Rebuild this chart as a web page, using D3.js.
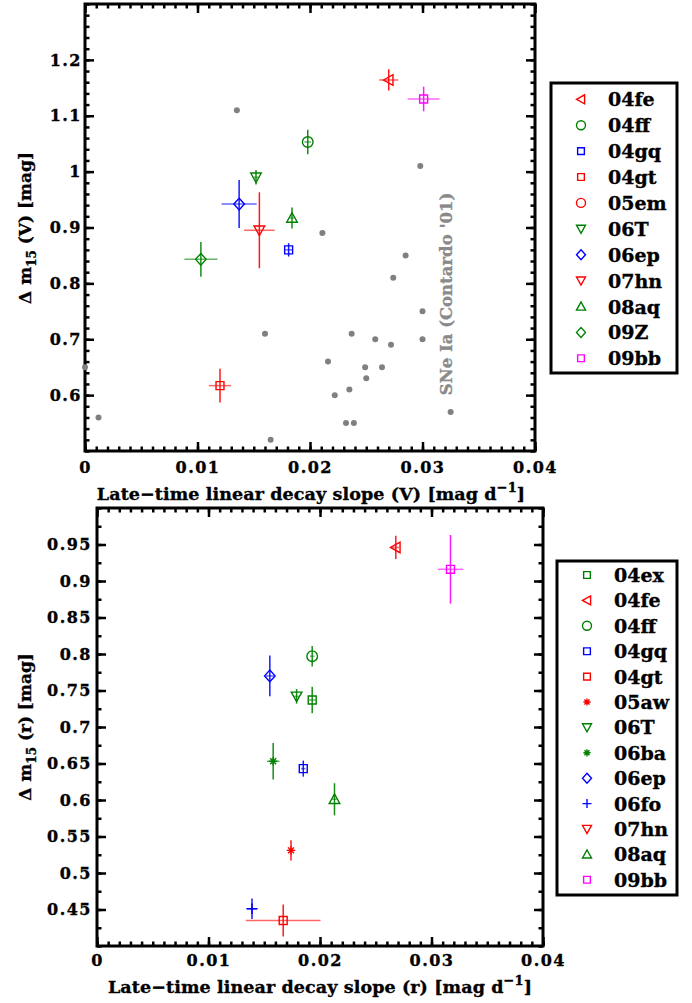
<!DOCTYPE html>
<html>
<head>
<meta charset="utf-8">
<script src="https://cdn.jsdelivr.net/npm/d3@7"></script>
<style>
body { margin: 0; background: #fff; }
svg text { font-family: "DejaVu Serif", serif; font-weight: bold; }
svg text.ink { stroke: #000; stroke-width: 0.35px; }
</style>
</head>
<body>
<div id="chart"></div>
<script>
// ---- top panel: V band
const vNames    = ["04fe", "04ff", "04gq", "04gt", "06T", "06ep", "07hn", "08aq", "09Z", "09bb"];
const vSlope    = [0.0270, 0.0198, 0.0181, 0.0120, 0.0152, 0.0137, 0.0155, 0.0184, 0.0103, 0.0301];
const vSlopeErr = [0.00085, 0.0003, 0.0003, 0.0010, 0.0002, 0.00156, 0.00136, 0.0002, 0.00147, 0.00142];
const vDm15     = [1.164, 1.053, 0.860, 0.617, 0.990, 0.942, 0.895, 0.917, 0.843, 1.130];
const vDm15Err  = [0.019, 0.022, 0.012, 0.030, 0.013, 0.043, 0.068, 0.019, 0.031, 0.022];
const vLegend   = ["04fe", "04ff", "04gq", "04gt", "05em", "06T", "06ep", "07hn", "08aq", "09Z", "09bb"];

// comparison sample, Contardo '01
const contSlope = [0.0000, 0.0012, 0.0135, 0.0160, 0.0165, 0.0211, 0.0216, 0.0222, 0.0232, 0.0239, 0.0235,
                   0.0237, 0.0249, 0.0250, 0.0258, 0.0264, 0.0272, 0.0274, 0.0285, 0.0298, 0.0300, 0.0300, 0.0325];
const contDm15  = [0.65, 0.56, 1.11, 0.71, 0.52, 0.89, 0.66, 0.60, 0.55, 0.55, 0.61,
                   0.71, 0.65, 0.63, 0.70, 0.65, 0.69, 0.81, 0.85, 1.01, 0.75, 0.70, 0.57];

// ---- bottom panel: r band
const rNames    = ["04ex", "04fe", "04ff", "04gq", "04gt", "05aw", "06T", "06ba", "06ep", "06fo", "08aq", "09bb"];
const rSlope    = [0.0193, 0.0268, 0.0193, 0.0185, 0.0167, 0.0174, 0.0179, 0.0158, 0.0155, 0.0139, 0.0213, 0.0317];
const rSlopeErr = [0.0003, 0.0003, 0.0002, 0.0002, 0.00335, 0.0003, 0.0002, 0.00057, 0.0004, 0.0005, 0.0002, 0.00115];
const rDm15     = [0.737, 0.946, 0.797, 0.643, 0.435, 0.531, 0.742, 0.653, 0.770, 0.451, 0.601, 0.916];
const rDm15Err  = [0.018, 0.016, 0.014, 0.011, 0.022, 0.014, 0.010, 0.025, 0.028, 0.014, 0.022, 0.047];
const rLegend   = ["04ex", "04fe", "04ff", "04gq", "04gt", "05aw", "06T", "06ba", "06ep", "06fo", "07hn", "08aq", "09bb"];

// tick labels
const xTicks = [0, 0.01, 0.02, 0.03, 0.04];
const vTicks = [0.6, 0.7, 0.8, 0.9, 1, 1.1, 1.2];
const rTicks = [0.45, 0.5, 0.55, 0.6, 0.65, 0.7, 0.75, 0.8, 0.85, 0.9, 0.95];

// colour + symbol for each SN
const snStyle = {
  "04ex": ["#008000", "square"], "04fe": ["#ff0000", "ltri"], "04ff": ["#008000", "circle"],
  "04gq": ["#0000ff", "square"], "04gt": ["#ff0000", "square"], "05aw": ["#ff0000", "star"],
  "05em": ["#ff0000", "circle"], "06T": ["#008000", "dtri"], "06ba": ["#008000", "star"],
  "06ep": ["#0000ff", "diamond"], "06fo": ["#0000ff", "plus"], "07hn": ["#ff0000", "dtri"],
  "08aq": ["#008000", "utri"], "09Z": ["#008000", "diamond"], "09bb": ["#ff00ff", "square"]
};

const width = 692;
const height = 1003;

const svg = d3.select("#chart")
  .append("svg")
  .attr("width", width)
  .attr("height", height);

function symbolPath(shape, s) {
  switch (shape) {
    case "ltri": return `M${-s},0L${s * 0.8},${-s}L${s * 0.8},${s}Z`;
    case "dtri": return `M${-s},${-s * 0.8}L${s},${-s * 0.8}L0,${s}Z`;
    case "utri": return `M${-s},${s * 0.8}L${s},${s * 0.8}L0,${-s}Z`;
    case "square": { const h = s * 0.75; return `M${-h},${-h}H${h}V${h}H${-h}Z`; }
    case "diamond": return `M0,${-s * 1.1}L${s},0L0,${s * 1.1}L${-s},0Z`;
    case "circle": return `M${s},0A${s},${s} 0 1,1 ${-s},0A${s},${s} 0 1,1 ${s},0`;
    case "plus": return `M${-s},0H${s}M0,${-s}V${s}`;
    case "star": {
      const a = s * 0.8, b = a * 0.707;
      return `M${-a},0H${a}M0,${-a}V${a}M${-b},${-b}L${b},${b}M${-b},${b}L${b},${-b}`;
    }
  }
}

function panel(opt) {
  const x = d3.scaleLinear().domain([0, 0.04]).range(opt.xRange);
  const y = d3.scaleLinear().domain(opt.yDomain).range(opt.yRange);
  const [x0, x1] = opt.xRange;
  const [yb, yt] = opt.yRange;
  const g = svg.append("g");

  const xMinor = d3.range(41).map(i => i / 1000);
  const yMinor = d3.range(Math.round((opt.yDomain[1] - opt.yDomain[0]) / opt.yMinorStep) + 1)
    .map(i => opt.yDomain[0] + i * opt.yMinorStep);

  const styleAxis = sel => {
    sel.select(".domain").remove();
    sel.selectAll("line").attr("stroke-width", 2.5);
    sel.selectAll("text").attr("class", "ink").style("font-size", "16px").style("letter-spacing", "1.5px");
  };

  // minor ticks
  g.append("g").attr("transform", `translate(0,${yb})`)
    .call(d3.axisBottom(x).tickValues(xMinor).tickSize(-4.5).tickFormat("")).call(styleAxis);
  g.append("g").attr("transform", `translate(0,${yt})`)
    .call(d3.axisTop(x).tickValues(xMinor).tickSize(-4.5).tickFormat("")).call(styleAxis);
  g.append("g").attr("transform", `translate(${x0},0)`)
    .call(d3.axisLeft(y).tickValues(yMinor).tickSize(-4.5).tickFormat("")).call(styleAxis);
  g.append("g").attr("transform", `translate(${x1},0)`)
    .call(d3.axisRight(y).tickValues(yMinor).tickSize(-4.5).tickFormat("")).call(styleAxis);

  // major ticks
  g.append("g").attr("transform", `translate(0,${yb})`)
    .call(d3.axisBottom(x).tickValues(xTicks).tickSize(-9).tickPadding(opt.xPad).tickFormat(d => String(d)))
    .call(styleAxis);
  g.append("g").attr("transform", `translate(0,${yt})`)
    .call(d3.axisTop(x).tickValues(xTicks).tickSize(-9).tickFormat("")).call(styleAxis);
  g.append("g").attr("transform", `translate(${x0},0)`)
    .call(d3.axisLeft(y).tickValues(opt.yTicks).tickSize(-9).tickPadding(opt.yPad).tickFormat(d => String(d)))
    .call(styleAxis);
  g.append("g").attr("transform", `translate(${x1},0)`)
    .call(d3.axisRight(y).tickValues(opt.yTicks).tickSize(-9).tickFormat("")).call(styleAxis);

  // frame
  g.append("rect")
    .attr("x", x0).attr("y", yt)
    .attr("width", x1 - x0).attr("height", yb - yt)
    .attr("fill", "none").attr("stroke", "#000").attr("stroke-width", 3);

  // comparison points
  if (opt.grey) {
    g.selectAll(".cont")
      .data(opt.grey.x)
      .enter()
      .append("circle")
      .attr("class", "cont")
      .attr("cx", d => x(d))
      .attr("cy", (_, i) => y(opt.grey.y[i]))
      .attr("r", 3)
      .attr("fill", "#808080");
    g.append("text")
      .attr("transform", `translate(452,294) rotate(-90)`)
      .attr("text-anchor", "middle")
      .attr("fill", "#8a8a8a")
      .attr("stroke", "#8a8a8a")
      .attr("stroke-width", 0.3)
      .style("font-size", "16.5px")
      .text("SNe Ia (Contardo '01)");
  }

  // error bars + markers
  const pts = opt.names.map((n, i) => ({
    name: n, sx: opt.sx[i], sxe: opt.sxe[i], dm: opt.dm[i], dme: opt.dme[i]
  }));
  const pt = g.selectAll(".sn").data(pts).enter().append("g").attr("class", "sn");
  pt.append("line")
    .attr("x1", d => x(d.sx - d.sxe)).attr("x2", d => x(d.sx + d.sxe))
    .attr("y1", d => y(d.dm)).attr("y2", d => y(d.dm))
    .attr("stroke", d => snStyle[d.name][0]).attr("stroke-opacity", 0.6).attr("stroke-width", 1.5);
  pt.append("line")
    .attr("x1", d => x(d.sx)).attr("x2", d => x(d.sx))
    .attr("y1", d => y(d.dm - d.dme)).attr("y2", d => y(d.dm + d.dme))
    .attr("stroke", d => snStyle[d.name][0]).attr("stroke-opacity", 0.9).attr("stroke-width", 1.5);
  pt.append("path")
    .attr("transform", d => `translate(${x(d.sx)},${y(d.dm)})`)
    .attr("d", d => symbolPath(snStyle[d.name][1], 5.3))
    .attr("fill", "none")
    .attr("stroke", d => snStyle[d.name][0])
    .attr("stroke-width", 1.4);

  // axis titles
  const xt = g.append("text")
    .attr("class", "ink")
    .attr("x", opt.xTitle[0]).attr("y", opt.xTitle[1])
    .attr("text-anchor", "middle")
    .style("font-size", "17.5px")
    .style("letter-spacing", "0.1px");
  xt.append("tspan").text(`Late\u2212time linear decay slope (${opt.band}) [mag d`);
  xt.append("tspan").attr("dy", -8).style("font-size", "13px").text("\u22121");
  xt.append("tspan").attr("dy", 8).text("]");

  const yt2 = g.append("text")
    .attr("class", "ink")
    .attr("transform", `translate(${opt.yTitle[0]},${opt.yTitle[1]}) rotate(-90)`)
    .attr("text-anchor", "middle")
    .style("font-size", "17px");
  yt2.append("tspan").text("\u0394 m");
  yt2.append("tspan").attr("dy", 5).style("font-size", "12px").text("15");
  yt2.append("tspan").attr("dy", -5).text(` (${opt.band}) [mag]`);

  // legend
  const L = opt.legend;
  g.append("rect")
    .attr("x", L.box[0]).attr("y", L.box[1])
    .attr("width", L.box[2]).attr("height", L.box[3])
    .attr("fill", "#fff").attr("stroke", "#000").attr("stroke-width", 3);
  const row = g.selectAll(".leg").data(L.names).enter().append("g")
    .attr("class", "leg")
    .attr("transform", (_, i) => `translate(0,${L.y0 + i * L.step})`);
  row.append("path")
    .attr("transform", `translate(${L.sx},0)`)
    .attr("d", d => symbolPath(snStyle[d][1], 4.5))
    .attr("fill", "none")
    .attr("stroke", d => snStyle[d][0])
    .attr("stroke-width", 1.4);
  row.append("text")
    .attr("class", "ink")
    .attr("x", L.tx).attr("y", 7)
    .style("font-size", "19px")
    .text(d => d);
}

panel({
  band: "V",
  xRange: [85, 535], yRange: [451, 4], yDomain: [0.5, 1.3], yMinorStep: 0.02,
  yTicks: vTicks, xPad: 11, yPad: 3,
  names: vNames, sx: vSlope, sxe: vSlopeErr, dm: vDm15, dme: vDm15Err,
  grey: { x: contSlope, y: contDm15 },
  xTitle: [311, 500], yTitle: [31, 228],
  legend: { names: vLegend, box: [551, 83, 126, 290], y0: 99.3, step: 25.9, sx: 581, tx: 608 }
});

panel({
  band: "r",
  xRange: [97, 543], yRange: [946, 508], yDomain: [0.4, 1.0], yMinorStep: 0.025,
  yTicks: rTicks, xPad: 9, yPad: 5,
  names: rNames, sx: rSlope, sxe: rSlopeErr, dm: rDm15, dme: rDm15Err,
  grey: null,
  xTitle: [320, 993], yTitle: [31, 727],
  legend: { names: rLegend, box: [557, 561, 120, 334], y0: 575, step: 25.4, sx: 587, tx: 614 }
});
</script>
</body>
</html>
